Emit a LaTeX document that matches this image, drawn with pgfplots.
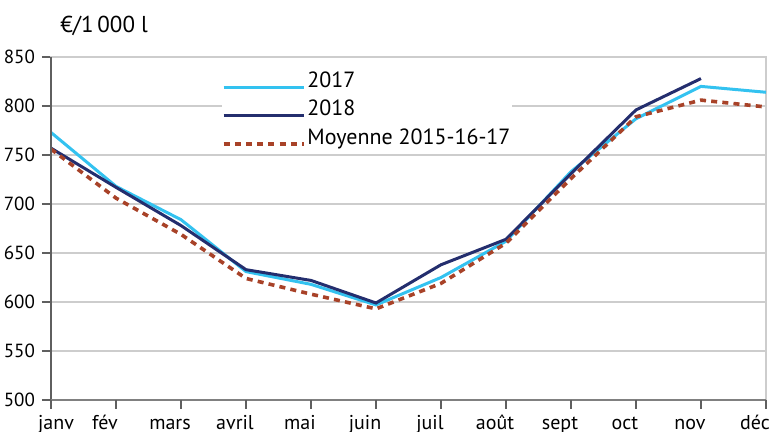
\documentclass[border=0pt]{standalone}
\usepackage{fontspec}
\setmainfont{PT Sans}
\usepackage{pgfplots}
\pgfplotsset{compat=1.18}
\definecolor{c2017}{RGB}{51,194,240}
\definecolor{c2018}{RGB}{36,46,110}
\definecolor{cmoy}{RGB}{168,66,40}
\definecolor{gridc}{RGB}{205,205,205}
\definecolor{axisc}{RGB}{95,95,95}

\begin{document}
\begin{tikzpicture}
\useasboundingbox (-25.5pt,-16pt) rectangle (360pt,200pt);
\begin{axis}[
  scale only axis, width=357.5pt, height=171.5pt,
  xmin=0, xmax=11, ymin=500, ymax=850, clip=false,
  ytick={500,550,...,850},
  xtick={0,...,11},
  xticklabels={\hspace*{16pt}janv,fév,mars,avril,mai,juin,juil,août,sept,oct,nov,déc},
  ymajorgrids, grid style={gridc, line width=0.75pt},
  axis line style={gridc, line width=0.75pt},
  tick pos=left, tick align=outside, major tick length=4.5pt,
  tick style={axisc, line width=0.9pt},
  yticklabel style={font=\fontsize{9.5}{10}\selectfont},
  xticklabel style={font=\fontsize{10}{11}\selectfont, text height=7.5pt, text depth=2.5pt, inner sep=1pt, xshift=-5.5pt, yshift=-1.5pt},
  /pgf/number format/assume math mode=true,
  legend image code/.code={\path[draw=none] (0pt,4pt) -- (40pt,4pt); \draw[#1] (0pt,-2.5pt) -- (40pt,-2.5pt);},
  legend cell align=left,
  legend style={draw=none, fill=white, inner sep=0pt, outer sep=0pt,
    at={(0.239,0.965)}, anchor=north west,
    font=\fontsize{11}{12}\selectfont, row sep=1.25pt,
    nodes={inner sep=1pt, text height=8pt, text depth=3pt},
    /tikz/every even column/.append style={column sep=0pt}},
]
\addplot[c2017, line width=1.5pt] coordinates {
  (0,773) (1,718) (2,684) (3,631) (4,618) (5,597) (6,625) (7,662) (8,733) (9,787) (10,820) (11,814)};
\addlegendentry{2017}
\addplot[c2018, line width=1.5pt] coordinates {
  (0,757) (1,717) (2,678) (3,633) (4,622) (5,599) (6,638) (7,664) (8,731) (9,796) (10,828)};
\addlegendentry{2018}
\addplot[cmoy, line width=1.8pt, dash pattern=on 3pt off 2.6pt] coordinates {
  (0,756) (1,706) (2,669) (3,624) (4,608) (5,593) (6,619) (7,660) (8,726) (9,789) (10,806) (11,799)};
\addlegendentry{Moyenne 2015-16-17}
\draw[axisc, line width=1pt] (rel axis cs:0,0) -- (rel axis cs:0,1);
\draw[gray, line width=1.3pt] (rel axis cs:0,0) -- (rel axis cs:1,0);
\pgfplotsinvokeforeach{0,...,11}{\draw[axisc, line width=1pt] (axis cs:#1,500) -- ++(0pt,-3.5pt);}
\end{axis}
\node[anchor=west, font=\fontsize{11.5}{12}\selectfont, inner sep=0pt] at (4.5pt,187pt) {€/1\,000 l};
\end{tikzpicture}
\end{document}
